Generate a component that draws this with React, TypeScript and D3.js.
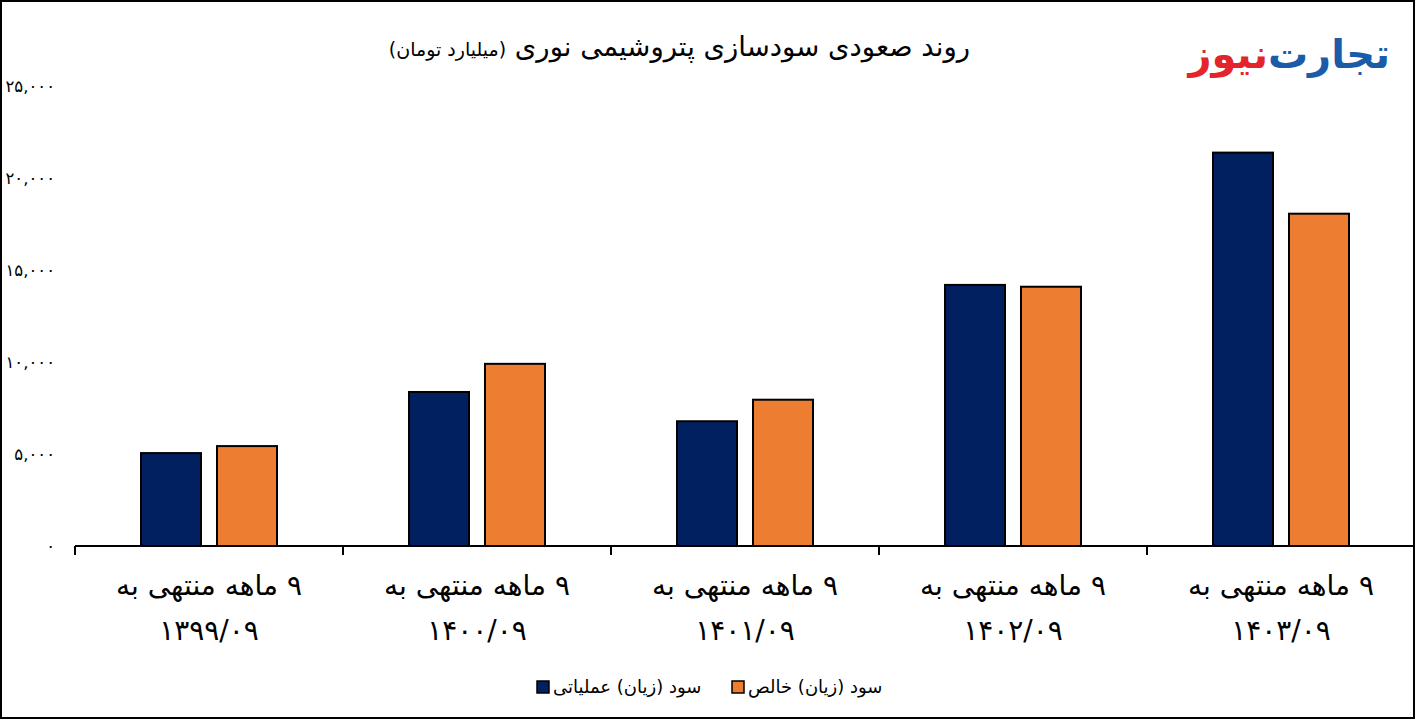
import React, { useEffect, useRef } from "react";
import * as d3 from "d3";

const periods = ["۱۳۹۹/۰۹", "۱۴۰۰/۰۹", "۱۴۰۱/۰۹", "۱۴۰۲/۰۹", "۱۴۰۳/۰۹"];
const periodPrefix = "۹ ماهه منتهی به";
const operatingProfit = [5050, 8370, 6780, 14190, 21380];
const netProfit = [5430, 9900, 7950, 14090, 18060];
const seriesNames = ["سود (زیان) عملیاتی", "سود (زیان) خالص"];
const seriesColors = ["#002060", "#ED7D31"];
const yTicks = [0, 5000, 10000, 15000, 20000, 25000];
const yTickLabels = ["۰", "۵,۰۰۰", "۱۰,۰۰۰", "۱۵,۰۰۰", "۲۰,۰۰۰", "۲۵,۰۰۰"];

const W = 1416;
const H = 720;
const FONT = "'DejaVu Sans', sans-serif";
const RLM = "\u200F";

const App = () => {
    const ref = useRef<SVGSVGElement>(null);

    useEffect(() => {
        const svg = d3.select(ref.current);
        svg.selectAll("*").remove();

        const x = d3.scaleBand().domain(periods).range([75, 1415]).padding(0);
        const inner = d3.scaleBand()
            .domain(["op", "net"])
            .range([-68, 68])
            .paddingInner(0.2105)
            .paddingOuter(0);
        const y = d3.scaleLinear().domain([0, 25000]).range([546, 86]);

        // frame
        svg.append("rect")
            .attr("x", 1).attr("y", 1)
            .attr("width", W - 3).attr("height", H - 3)
            .attr("fill", "#fff")
            .attr("stroke", "#000")
            .attr("stroke-width", 2);

        // title
        const title = svg.append("text")
            .attr("x", 970).attr("y", 56)
            .attr("text-anchor", "end")
            .attr("font-family", FONT)
            .attr("fill", "#000");
        title.append("tspan")
            .attr("font-size", 27.5)
            .text(RLM + "روند صعودی سودسازی پتروشیمی نوری " + RLM);
        title.append("tspan")
            .attr("font-size", 19)
            .text("(میلیارد تومان)" + RLM);

        // logo
        const logo = svg.append("text")
            .attr("x", 1390).attr("y", 68)
            .attr("text-anchor", "end")
            .attr("font-family", FONT)
            .attr("font-weight", "bold")
            .attr("font-size", 40);
        logo.append("tspan").attr("fill", "#1B5BA8").text(RLM + "تجارت\u200C");
        logo.append("tspan").attr("fill", "#E3242B").text("نیوز" + RLM);

        // y labels
        svg.selectAll(".ylab")
            .data(yTicks)
            .join("text")
            .attr("class", "ylab")
            .attr("x", 55)
            .attr("y", (d) => y(d) + 6)
            .attr("text-anchor", "end")
            .attr("font-family", FONT)
            .attr("font-size", 16.5)
            .attr("fill", "#000")
            .text((d, i) => yTickLabels[i]);

        // bars
        const rows = periods.map((p, i) => [
            { p, key: "op", v: operatingProfit[i], c: seriesColors[0] },
            { p, key: "net", v: netProfit[i], c: seriesColors[1] },
        ]).flat();

        svg.selectAll(".bar")
            .data(rows)
            .join("rect")
            .attr("class", "bar")
            .attr("x", (d) => x(d.p)! + x.bandwidth() / 2 + inner(d.key)!)
            .attr("y", (d) => y(d.v))
            .attr("width", inner.bandwidth())
            .attr("height", (d) => y(0) - y(d.v))
            .attr("fill", (d) => d.c)
            .attr("stroke", "#000")
            .attr("stroke-width", 2);

        // x axis
        svg.append("line")
            .attr("x1", 75).attr("x2", 1415)
            .attr("y1", y(0)).attr("y2", y(0))
            .attr("stroke", "#000")
            .attr("stroke-width", 2);
        const edges = periods.map((p) => x(p)!).concat([x.range()[1] - 1]);
        svg.selectAll(".xtick")
            .data(edges)
            .join("line")
            .attr("class", "xtick")
            .attr("x1", (d) => d).attr("x2", (d) => d)
            .attr("y1", y(0)).attr("y2", y(0) + 9)
            .attr("stroke", "#000")
            .attr("stroke-width", 2);

        const xl = svg.selectAll(".xlab")
            .data(periods)
            .join("text")
            .attr("class", "xlab")
            .attr("text-anchor", "middle")
            .attr("font-family", FONT)
            .attr("font-size", 28)
            .attr("fill", "#000");
        xl.append("tspan")
            .attr("x", (d) => x(d)! + x.bandwidth() / 2)
            .attr("y", 595)
            .text(RLM + periodPrefix + RLM);
        xl.append("tspan")
            .attr("x", (d) => x(d)! + x.bandwidth() / 2)
            .attr("y", 640)
            .text((d) => d);

        // legend
        const legendX = [537, 732];
        const lg = svg.selectAll(".lg")
            .data(seriesNames)
            .join("g")
            .attr("class", "lg")
            .attr("transform", (d, i) => `translate(${legendX[i]},681)`);
        lg.append("rect")
            .attr("width", 12).attr("height", 12)
            .attr("fill", (d, i) => seriesColors[i])
            .attr("stroke", "#000")
            .attr("stroke-width", 1.5);
        lg.append("text")
            .attr("x", 16).attr("y", 12)
            .attr("font-family", FONT)
            .attr("font-size", 18)
            .attr("fill", "#000")
            .text((d) => RLM + d + RLM);
    }, []);

    return (
        <svg
            ref={ref}
            width={W}
            height={H}
            style={{ position: "absolute", left: 0, top: 0 }}
        />
    );
};

export default App;
